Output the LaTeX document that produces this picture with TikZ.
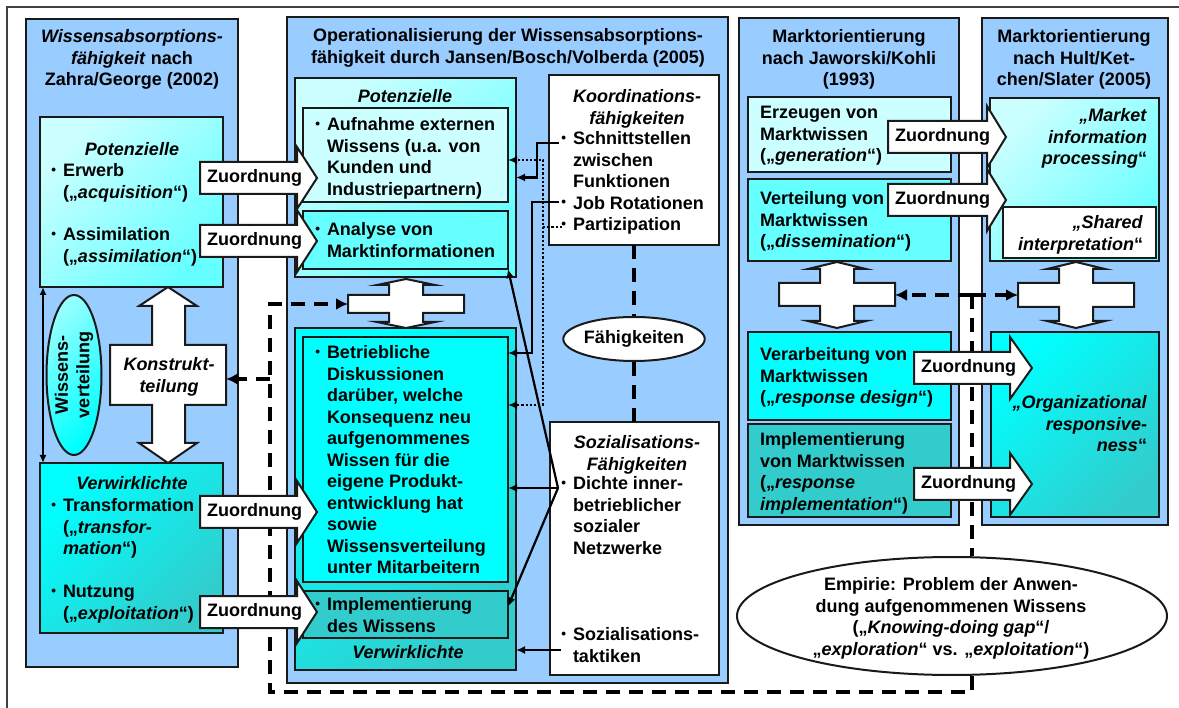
\documentclass[tikz,border=0pt]{standalone}
\usepackage{fontspec}
\setmainfont{Liberation Sans}
\usepackage{graphicx}
\usetikzlibrary{shapes.geometric,arrows.meta,calc}

\definecolor{panel}{HTML}{99CCFF}
\definecolor{cyLight}{HTML}{CCFFFF}
\definecolor{cyMid}{HTML}{66FFFF}
\definecolor{cyFull}{HTML}{00FFFF}
\definecolor{cyDark}{HTML}{33CCCC}
\definecolor{edge}{HTML}{1A1A1A}

\newcommand{\fs}{\fontsize{18}{21.5}\selectfont\bfseries}
\newcommand{\bul}{\leavevmode\llap{\raisebox{2.2pt}{\scalebox{0.75}{\textbullet}}\hspace{7pt}}}
% box node from its corners: [style]{name}{x1}{y1}{x2}{y2}
\newcommand{\bx}[6][]{\node[bxs,#1,minimum width={(#5)-(#3)},minimum height={(#6)-(#4)}] (#2) at ({((#3)+(#5))/2},{((#4)+(#6))/2}) {};}
% text block: [style]{name}{x}{centre of first line}{text}
\newcommand{\tx}[5][]{\node[txt,#1] (#2) at (#3,{(#4)-9.5}) {\strut #5};}
% block arrow labelled "Zuordnung": {name}{left}{head base}{tip}{y}
\newcommand{\zarr}[5]{%
  \draw[arrs] (#2,{(#5)-16}) -- (#3,{(#5)-16}) -- (#3,{(#5)-31}) -- (#4,#5) -- (#3,{(#5)+31}) -- (#3,{(#5)+16}) -- (#2,{(#5)+16}) -- cycle;
  \node[font=\fs, inner sep=0pt, anchor=west] (#1) at ({(#2)+7},#5) {Zuordnung};}
% vertical double arrow with a cross bar: {cx}{top}{bar top}{bar bottom}{bottom}{head height}
\newcommand{\plusarrow}[6]{%
  \draw[arrs] (#1,#2) -- ({#1+29},{#2+#6}) -- ({#1+17},{#2+#6}) -- ({#1+17},#3) -- ({#1+58},#3) -- ({#1+58},#4) -- ({#1+17},#4) -- ({#1+17},{#5-#6}) -- ({#1+29},{#5-#6}) -- (#1,#5) -- ({#1-29},{#5-#6}) -- ({#1-17},{#5-#6}) -- ({#1-17},#4) -- ({#1-58},#4) -- ({#1-58},#3) -- ({#1-17},#3) -- ({#1-17},{#2+#6}) -- ({#1-29},{#2+#6}) -- cycle;}

\begin{document}
\begin{tikzpicture}[x=1pt,y=-1pt,
  bxs/.style={draw=edge, line width=2pt, inner sep=0pt, outer sep=0pt, anchor=center},
  txt/.style={font=\fs, inner sep=0pt, outer sep=0pt, align=left, anchor=north west},
  ctr/.style={align=center, anchor=north},
  rgt/.style={align=right, anchor=north east},
  lgrad/.style={top color=cyLight, bottom color=cyMid, shading angle=45},
  dgrad/.style={top color=cyFull, bottom color=cyDark, shading angle=45},
  arrs/.style={draw=edge, fill=white, line width=2pt, line join=miter},
  conn/.style={line width=2.2pt, -{Latex[length=9pt,width=8pt]}},
  dotc/.style={line width=2.4pt, dash pattern=on 2.2pt off 2pt, -{Latex[length=9pt,width=8pt]}},
  dsh/.style={line width=3.6pt, dash pattern=on 14pt off 9pt, line join=miter},
  dtip/.style={-{Latex[length=12pt,width=12pt]}},
]
\useasboundingbox (0,0) rectangle (1179,708);
\fill[white] (0,0) rectangle (1179,708);
\draw[line width=1.5pt, black!75] (7,708) -- (7,7) -- (1179,7);

% panels
\bx[fill=panel]{p1}{26}{19}{238}{667}
\bx[fill=panel]{p2}{287}{17}{728}{683}
\bx[fill=panel]{p3}{739}{18}{959}{525}
\bx[fill=panel]{p4}{982}{18}{1168}{525}

% boxes
\bx[lgrad]{pot1}{40}{117}{223}{287}
\bx[dgrad]{ver1}{40}{463}{223}{633}
\bx[lgrad]{pot2}{295}{78}{516}{277}
\bx[fill=cyLight]{aufn}{303}{108}{508}{202}
\bx[fill=cyMid]{anal}{303}{211}{508}{269}
\bx[fill=white]{koord}{549}{75}{719}{245}
\bx[dgrad]{ver2}{295}{328}{516}{670}
\bx[fill=cyFull]{betr}{303}{337}{508}{582}
\bx[fill=cyDark]{impl}{303}{591}{508}{638}
\bx[fill=white]{soz}{550}{422}{719}{675}
\bx[fill=cyLight]{erz}{748}{97}{951}{172}
\bx[fill=cyMid]{vert}{748}{179}{951}{261}
\bx[fill=cyFull]{verarb}{748}{332}{951}{420}
\bx[fill=cyDark]{implm}{748}{424}{951}{517}
\bx[lgrad]{mip}{990}{98}{1159}{261}
\bx[fill=white]{shared}{1003}{207}{1156}{258}
\bx[dgrad]{orgr}{991}{332}{1159}{517}

% Konstruktteilung double arrow
\draw[arrs] (168,287) -- (197,306) -- (185,306) -- (185,345) -- (226,345) -- (226,405) -- (185,405) -- (185,443) -- (197,443) -- (168,463) -- (139,443) -- (152,443) -- (152,405) -- (110,405) -- (110,345) -- (152,345) -- (152,306) -- (139,306) -- cycle;
\node[font=\fs, align=center, inner sep=0pt] (kt) at (169,377) {\textit{Konstrukt-}\\\textit{teilung}};
\coordinate (ktR) at (226,379);

% cross arrows between potential and realised parts
\plusarrow{406}{279}{295}{313}{328}{6}
\plusarrow{837}{262}{283}{306}{328}{7}
\plusarrow{1076}{262}{283}{307}{328}{7}

% ellipses
\node[ellipse, draw=edge, line width=2pt, top color=cyMid!70!white, bottom color=cyFull, shading angle=45, minimum width=55, minimum height=160, inner sep=0pt] (wv) at (74,375) {};
\node[font=\fs, rotate=90, align=center, inner sep=0pt] (wvt) at (74,375) {Wissens-\\verteilung};
\draw[line width=1.8pt, {Latex[length=8pt,width=7pt]}-{Latex[length=8pt,width=7pt]}] ([xshift=3pt]pot1.south west) -- ([xshift=3pt]ver1.north west);

\node[ellipse, draw=edge, line width=2pt, fill=white, minimum width=120, minimum height=44, inner sep=0pt, font=\fs] (faeh) at (634,339) {Fähigkeiten};
\node[ellipse, draw=edge, line width=2pt, fill=white, minimum width=430, minimum height=118, inner sep=0pt] (emp) at (952,616) {};

\draw[dsh] (koord.south) -- (faeh.north);
\draw[dsh] (faeh.south) -- (faeh.south |- soz.north);

% dashed links
\coordinate (dT) at (972,295);
\coordinate (c3R) at (895,295);
\coordinate (c4L) at (1018,295);
\coordinate (c2L) at (348,304);
\coordinate (dBL) at (270,692);
\coordinate (dTL) at (270,304);
\coordinate (dK) at (270,379);
\draw[dsh,dtip] (dT) -- (c3R);
\draw[dsh,dtip] (dT) -- (c4L);
\draw[dsh] (dT) -- (dT |- emp.north);
\draw[dsh,dtip] (dT |- emp.south) -- (dBL -| dT) -- (dBL) -- (dTL) -- (c2L);
\draw[dsh,dtip] (dK) -- (ktR);

% Zuordnung arrows
\zarr{z1}{200}{297}{317}{178}
\zarr{z2}{200}{297}{317}{241}
\zarr{z3}{200}{297}{317}{512}
\zarr{z4}{200}{297}{317}{612}
\zarr{zA}{888}{987}{1006}{137}
\zarr{zB}{888}{987}{1006}{200}
\zarr{zC}{914}{1010}{1032}{368}
\zarr{zD}{914}{1010}{1032}{484}

% panel 1 texts
\tx[ctr]{t1}{132}{37}{\textit{Wissensabsorptions-}\\\textit{fähigkeit} nach\\Zahra/George (2002)}
\tx[ctr]{pot1l}{132}{150}{\textit{Potenzielle}}
\tx{erw}{63}{171}{\bul Erwerb\\(„\textit{acquisition}“)}
\tx{ass}{63}{235}{\bul Assimilation\\(„\textit{assimilation}“)}
\tx[ctr]{ver1l}{132}{484}{\textit{Verwirklichte}}
\tx{trf}{63}{506}{\bul Transformation\\(„\textit{transfor-}\\\textit{mation}“)}
\tx{nutz}{63}{592}{\bul Nutzung\\(„\textit{exploitation}“)}

% panel 2 texts
\tx[ctr]{t2}{508}{36}{Operationalisierung der Wissensabsorptions-\\fähigkeit durch Jansen/Bosch/Volberda (2005)}
\tx[ctr]{pot2l}{405}{97}{\textit{Potenzielle}}
\tx{aufnt}{327}{125}{\bul Aufnahme externen\\Wissens (u.a. von\\Kunden und\\Industriepartnern)}
\tx{analt}{327}{230}{\bul Analyse von\\Marktinformationen}
\tx[ctr]{koordl}{637}{97}{\textit{Koordinations-}\\\textit{fähigkeiten}}
\tx{koordt}{573}{139}{\bul Schnittstellen\\zwischen\\Funktionen\\\bul Job Rotationen\\\bul Partizipation}
\tx{betrt}{327}{353}{\bul Betriebliche\\Diskussionen\\darüber, welche\\Konsequenz neu\\aufgenommenes\\Wissen für die\\eigene Produkt-\\entwicklung hat\\sowie\\Wissensverteilung\\unter Mitarbeitern}
\tx{implt}{327}{605}{\bul Implementierung\\des Wissens}
\tx[ctr]{ver2l}{408}{653}{\textit{Verwirklichte}}
\tx[ctr]{sozl}{637}{443}{\textit{Sozialisations-}\\\textit{Fähigkeiten}}
\tx{dicht}{573}{484}{\bul Dichte inner-\\betrieblicher\\sozialer\\Netzwerke}
\tx{takt}{573}{635}{\bul Sozialisations-\\taktiken}

% panel 3 texts
\tx[ctr]{t3}{849}{37}{Marktorientierung\\nach Jaworski/Kohli\\(1993)}
\tx{erzt}{760}{113}{Erzeugen von\\Marktwissen\\(„\textit{generation}“)}
\tx{vertt}{760}{199}{Verteilung von\\Marktwissen\\(„\textit{dissemination}“)}
\tx{verarbt}{760}{355}{Verarbeitung von\\Marktwissen\\(„\textit{response design}“)}
\tx{implmt}{760}{440}{Implementierung\\von Marktwissen\\(„\textit{response}\\\textit{implementation}“)}

% panel 4 texts
\tx[ctr]{t4}{1074}{37}{Marktorientierung\\nach Hult/Ket-\\chen/Slater (2005)}
\tx[rgt]{mipt}{1147}{116}{\textit{„Market}\\\textit{information}\\\textit{processing}“}
\tx[rgt]{sharedt}{1143}{223}{\textit{„Shared}\\\textit{interpretation}“}
\tx[rgt]{orgt}{1147}{403}{\textit{„Organizational}\\\textit{responsive-}\\\textit{ness}“}

% Empirie
\tx[ctr]{empt}{951}{585}{Empirie: Problem der Anwen-\\dung aufgenommenen Wissens\\(„\textit{Knowing-doing gap}“/\\„\textit{exploration}“ vs. „\textit{exploitation}“)}

% capability connectors
\coordinate (kS) at (559,143);
\coordinate (kJ) at (559,202);
\coordinate (kP) at (562,227);
\coordinate (pj) at (543,227);
\coordinate (sD) at (558,488);
\coordinate (sT) at (561,650);
\draw[conn] (kS) -- ++(-22,0) |- (pot2.east);
\draw[conn] (kJ) -- ++(-27,0) |- ([yshift=-16pt]betr.north east);
\draw[dotc] (kP) -- (pj) |- ([yshift=-5pt]aufn.east);
\draw[dotc] (pj) |- ([yshift=-68pt]betr.north east);
\draw[conn] (sD) -- (anal.south east);
\draw[conn] (sD) -- (betr.east |- sD);
\draw[conn] (sD) -- ([yshift=8pt]impl.east);
\draw[conn] (sT) -- (ver2.east |- sT);
\end{tikzpicture}
\end{document}
